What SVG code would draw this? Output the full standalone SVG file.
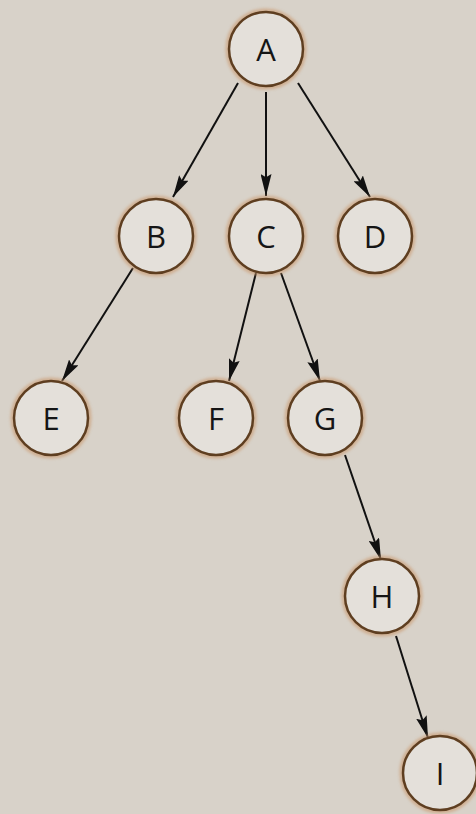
<svg xmlns="http://www.w3.org/2000/svg" width="476" height="814" viewBox="0 0 476 814">
<defs>
<marker id="ah" viewBox="0 0 20 10" refX="20" refY="5" markerWidth="22" markerHeight="11" markerUnits="userSpaceOnUse" orient="auto">
<path d="M0,0 L20,5 L0,10 L3,5 Z" fill="#111"/>
</marker>
<filter id="glow" x="-30%" y="-30%" width="160%" height="160%">
<feGaussianBlur stdDeviation="1.5"/>
</filter>
</defs>
<style>
.bg{fill:#d8d2c9}
.halo{fill:none;stroke:#c9966a;stroke-width:5;opacity:0.6}
.ring{fill:#e4e0da;stroke:#5e3e20;stroke-width:2.5}
.lbl{font-family:"Open Sans","Noto Sans",sans-serif;font-size:31px;fill:#151515;text-anchor:middle;dominant-baseline:central}
.edge{stroke:#111;stroke-width:2;fill:none;marker-end:url(#ah)}
</style>
<rect class="bg" x="0" y="0" width="476" height="814"/>
<g id="connectors">
<line class="edge" x1="238" y1="83" x2="173" y2="197"/>
<line class="edge" x1="266" y1="92" x2="266" y2="196"/>
<line class="edge" x1="298" y1="83" x2="370" y2="197"/>
<line class="edge" x1="133" y1="268" x2="62" y2="381"/>
<line class="edge" x1="256" y1="273" x2="229" y2="381"/>
<line class="edge" x1="281" y1="273" x2="320" y2="381"/>
<line class="edge" x1="345" y1="455" x2="381" y2="560"/>
<line class="edge" x1="396" y1="636" x2="428" y2="738"/>
</g>
<g id="A"><circle class="halo" cx="266" cy="49" r="38" filter="url(#glow)"/><circle class="ring" cx="266" cy="49" r="37"/><text class="lbl" x="266" y="49">A</text></g>
<g id="B"><circle class="halo" cx="156" cy="236" r="38" filter="url(#glow)"/><circle class="ring" cx="156" cy="236" r="37"/><text class="lbl" x="156" y="236">B</text></g>
<g id="C"><circle class="halo" cx="266" cy="236" r="38" filter="url(#glow)"/><circle class="ring" cx="266" cy="236" r="37"/><text class="lbl" x="266" y="236">C</text></g>
<g id="D"><circle class="halo" cx="375" cy="236" r="38" filter="url(#glow)"/><circle class="ring" cx="375" cy="236" r="37"/><text class="lbl" x="375" y="236">D</text></g>
<g id="E"><circle class="halo" cx="51" cy="418" r="38" filter="url(#glow)"/><circle class="ring" cx="51" cy="418" r="37"/><text class="lbl" x="51" y="418">E</text></g>
<g id="F"><circle class="halo" cx="216" cy="418" r="38" filter="url(#glow)"/><circle class="ring" cx="216" cy="418" r="37"/><text class="lbl" x="216" y="418">F</text></g>
<g id="G"><circle class="halo" cx="325" cy="418" r="38" filter="url(#glow)"/><circle class="ring" cx="325" cy="418" r="37"/><text class="lbl" x="325" y="418">G</text></g>
<g id="H"><circle class="halo" cx="382" cy="596" r="38" filter="url(#glow)"/><circle class="ring" cx="382" cy="596" r="37"/><text class="lbl" x="382" y="596">H</text></g>
<g id="I"><circle class="halo" cx="440" cy="773" r="38" filter="url(#glow)"/><circle class="ring" cx="440" cy="773" r="37"/><text class="lbl" x="440" y="773">I</text></g>
</svg>
